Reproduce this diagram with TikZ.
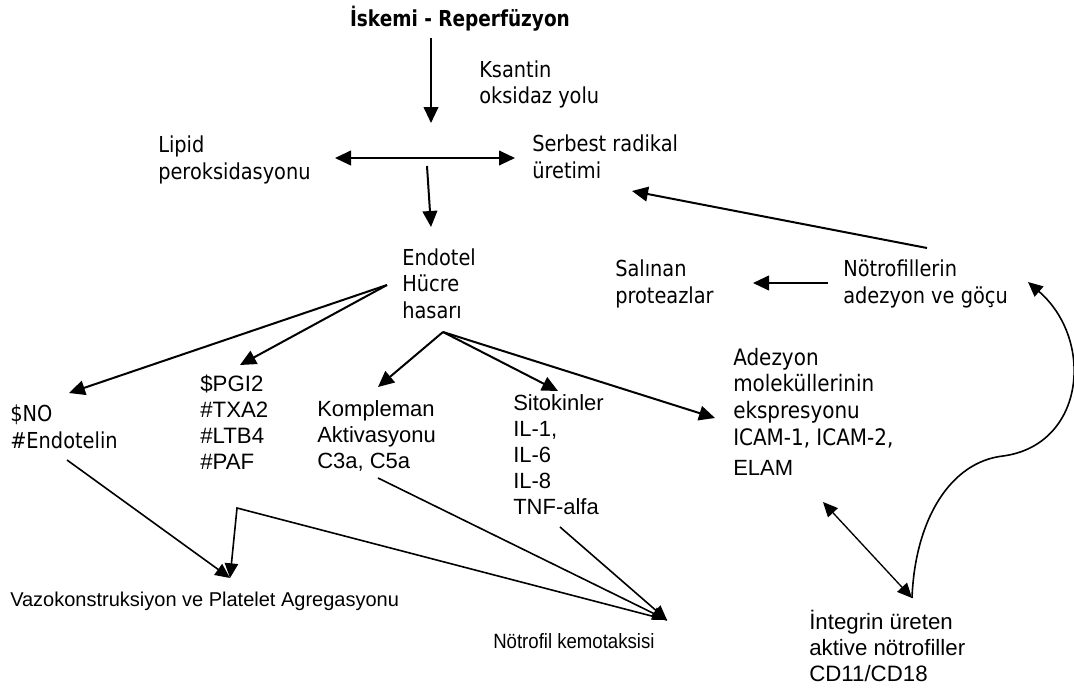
\documentclass[tikz,border=0pt]{standalone}
\usepackage{fontspec}
\setmainfont{Liberation Sans}
\newfontfamily\tah[FakeStretch=0.88]{DejaVu Sans}
\newfontfamily\tahb[FakeStretch=0.84]{DejaVu Sans Bold}
\newfontfamily\nar[FakeStretch=0.9]{Liberation Sans}
\usetikzlibrary{arrows.meta}
\begin{document}
\begin{tikzpicture}[x=0.75pt,y=-0.75pt,
  tt/.style={inner sep=0pt, anchor=north west, align=left, font=\tah\fontsize{16.5}{20}\selectfont},
  ta/.style={inner sep=0pt, anchor=north west, align=left, font=\fontsize{16.7}{19.5}\selectfont},
  thk/.style={-{Triangle[length=12pt,width=11pt]}, line width=1.5pt},
  med/.style={-{Triangle[length=11pt,width=10pt]}, line width=1.2pt},
  dbl/.style={{Triangle[length=12pt,width=11pt]}-{Triangle[length=12pt,width=11pt]}, line width=1.5pt},
  thn/.style={{Triangle[length=11pt,width=10pt]}-{Triangle[length=11pt,width=10pt]}, line width=1pt}]
\useasboundingbox (0,0) rectangle (1074,689);
\fill[white] (0,0) rectangle (1074,689);

% nodes
\node[inner sep=0pt, anchor=base, font=\tahb\fontsize{16.5}{20}\selectfont] (isk) at (460,26) {İskemi - Reperfüzyon};
\node[tt] (ksa) at (479,58.3) {\strut Ksantin\\\strut oksidaz yolu};
\node[tt] (lip) at (158,134) {\strut Lipid\\\strut peroksidasyonu};
\node[tt] (ser) at (532,133) {\strut Serbest radikal\\\strut üretimi};
\node[tt] (end) at (402,246.3) {\strut Endotel\\\strut Hücre\\\strut hasarı};
\node[tt] (sal) at (615,258) {\strut Salınan\\\strut proteazlar};
\node[tt] (not) at (843,258) {\strut Nötrofillerin\\\strut adezyon ve göçu};
\node[tt] (no) at (10,403) {\strut \$NO\\\strut \#Endotelin};
\node[ta] (pgi) at (200,373.5) {\strut \$PGI2\\\strut \#TXA2\\\strut \#LTB4\\\strut \#PAF};
\node[ta, font=\fontsize{16.5}{19.5}\selectfont] (kom) at (317,398.5) {\strut Kompleman\\\strut Aktivasyonu\\\strut C3a, C5a};
\node[ta, font=\fontsize{16.5}{19.5}\selectfont] (sit) at (513,392) {\strut Sitokinler\\\strut IL-1,\\\strut IL-6\\\strut IL-8\\\strut TNF-alfa};
\node[tt, font=\tah\fontsize{17}{20}\selectfont] (ade) at (733,346.3) {\strut Adezyon\\\strut moleküllerinin\\\strut ekspresyonu\\\strut ICAM-1, ICAM-2,\\[3pt]\strut{\rmfamily\fontsize{16.5}{20}\selectfont ELAM}};
\node[ta] (int) at (809,609.8) {\strut İntegrin üreten\\\strut aktive nötrofiller\\\strut CD11/CD18};
\node[inner sep=0pt, anchor=base west, font=\fontsize{15}{19.5}\selectfont] (vaz) at (10,606.7) {Vazokonstruksiyon ve Platelet Agregasyonu};
\node[inner sep=0pt, anchor=base west, font=\nar\fontsize{15.5}{19.5}\selectfont] (kem) at (493,648) {Nötrofil kemotaksisi};

% connector end points
\coordinate (isk-s) at (431,38);
\coordinate (ksa-w) at (431,123);
\coordinate (lip-e) at (335,158);
\coordinate (ser-w) at (515,158);
\coordinate (dbl-s) at (427,166);
\coordinate (end-n) at (431,227);
\coordinate (end-w) at (387,285);
\coordinate (end-s) at (443,332);
\coordinate (no-n) at (69,393);
\coordinate (pgi-n) at (240,365);
\coordinate (kom-n) at (378,387);
\coordinate (sit-n) at (558,391);
\coordinate (ade-w) at (715,418);
\coordinate (not-w) at (927,248);
\coordinate (ser-e) at (632,191);
\coordinate (not-l) at (828,283);
\coordinate (sal-e) at (753,283);
\coordinate (no-s) at (67,460);
\coordinate (vaz-n) at (230,578);
\coordinate (bend) at (237,508);
\coordinate (kem-n) at (667,620);
\coordinate (kom-s) at (378,478);
\coordinate (sit-s) at (560,527);
\coordinate (ade-s) at (823,502);
\coordinate (int-n) at (912,598);
\coordinate (cv) at (1003,456);
\coordinate (not-e) at (1028,282);

% connectors
\draw[thk] (isk-s) -- (ksa-w);
\draw[dbl] (lip-e) -- (ser-w);
\draw[thk] (dbl-s) -- (end-n);
\draw[thk] (end-w) -- (no-n);
\draw[thk] (end-w) -- (pgi-n);
\draw[thk] (end-s) -- (kom-n);
\draw[thk] (end-s) -- (sit-n);
\draw[thk] (end-s) -- (ade-w);
\draw[thk] (not-w) -- (ser-e);
\draw[thk] (not-l) -- (sal-e);
\draw[med] (no-s) -- (vaz-n);
\draw[med] (kem-n) -- (bend) -- (vaz-n);
\draw[med] (kom-s) -- (kem-n);
\draw[med] (sit-s) -- (kem-n);
\draw[thn] (ade-s) -- (int-n);
\draw[med] (int-n) .. controls (915,520) and (950,462) .. (cv) .. controls (1085,445) and (1095,340) .. (not-e);
\end{tikzpicture}
\end{document}
